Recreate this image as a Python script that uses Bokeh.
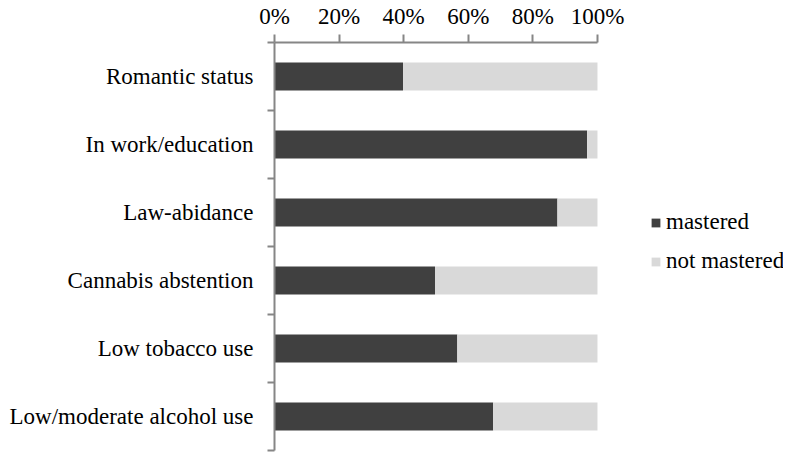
from bokeh.plotting import figure
from bokeh.models import Range1d, FixedTicker, ColumnDataSource, Legend, LegendItem
from bokeh.embed import file_html
from bokeh.resources import INLINE

categories = ["Romantic status", "In work/education", "Law-abidance",
              "Cannabis abstention", "Low tobacco use", "Low/moderate alcohol use"]
mastered = [39.8, 96.8, 87.6, 49.7, 56.6, 67.7]
not_mastered = [round(100 - m, 1) for m in mastered]
x_ticks = [0, 20, 40, 60, 80, 100]
x_tick_labels = ["0%", "20%", "40%", "60%", "80%", "100%"]
series_names = ["mastered", "not mastered"]
series_colors = ["#404040", "#d9d9d9"]

FONT = "Liberation Serif"
FSIZE = "23px"
AXIS_COLOR = "#868686"

n = len(categories)
ypos = [n - i - 0.5 for i in range(n)]
src = ColumnDataSource(dict(y=ypos, cat=categories, m=mastered, nm=not_mastered))

p = figure(width=783, height=452, x_range=Range1d(0, 157.6), y_range=Range1d(0, n),
           x_axis_location="above", output_backend="svg", toolbar_location=None,
           min_border_left=274, min_border_right=0, min_border_top=42, min_border_bottom=2)

rs = p.hbar_stack(["m", "nm"], y="y", height=0.41, color=series_colors, source=src,
                  line_color=None)

legend = Legend(items=[LegendItem(label=series_names[0], renderers=[rs[0]]),
                       LegendItem(label=series_names[1], renderers=[rs[1]])],
                location=(376, 176))
legend.label_text_font = FONT
legend.label_text_font_size = FSIZE
legend.label_text_color = "#000000"
legend.glyph_width = 11
legend.glyph_height = 11
legend.label_standoff = 5
legend.spacing = 13
legend.padding = 0
legend.margin = 0
legend.border_line_color = None
legend.background_fill_alpha = 0
p.add_layout(legend)

xa = p.xaxis[0]
xa.ticker = FixedTicker(ticks=x_ticks, minor_ticks=[])
xa.major_label_overrides = dict(zip(x_ticks, x_tick_labels))
xa.bounds = (0, 100)
xa.major_tick_in = 0
xa.major_tick_out = 8
xa.minor_tick_in = 0
xa.minor_tick_out = 0
xa.axis_line_color = AXIS_COLOR
xa.major_tick_line_color = AXIS_COLOR
xa.axis_line_width = 2
xa.major_tick_line_width = 2
xa.major_label_text_font = FONT
xa.major_label_text_font_size = FSIZE
xa.major_label_text_color = "#000000"
xa.major_label_standoff = 6

ya = p.yaxis[0]
ya.ticker = FixedTicker(ticks=ypos, minor_ticks=list(range(n + 1)))
ya.major_label_overrides = dict(zip(ypos, categories))
ya.major_tick_in = 0
ya.major_tick_out = 0
ya.minor_tick_in = 0
ya.minor_tick_out = 7
ya.axis_line_color = AXIS_COLOR
ya.minor_tick_line_color = AXIS_COLOR
ya.axis_line_width = 2
ya.minor_tick_line_width = 2
ya.major_label_text_font = FONT
ya.major_label_text_font_size = FSIZE
ya.major_label_text_color = "#000000"
ya.major_label_standoff = 14

p.xgrid.visible = False
p.ygrid.visible = False
p.outline_line_color = None

open("out.html", "w").write(file_html(p, INLINE))
